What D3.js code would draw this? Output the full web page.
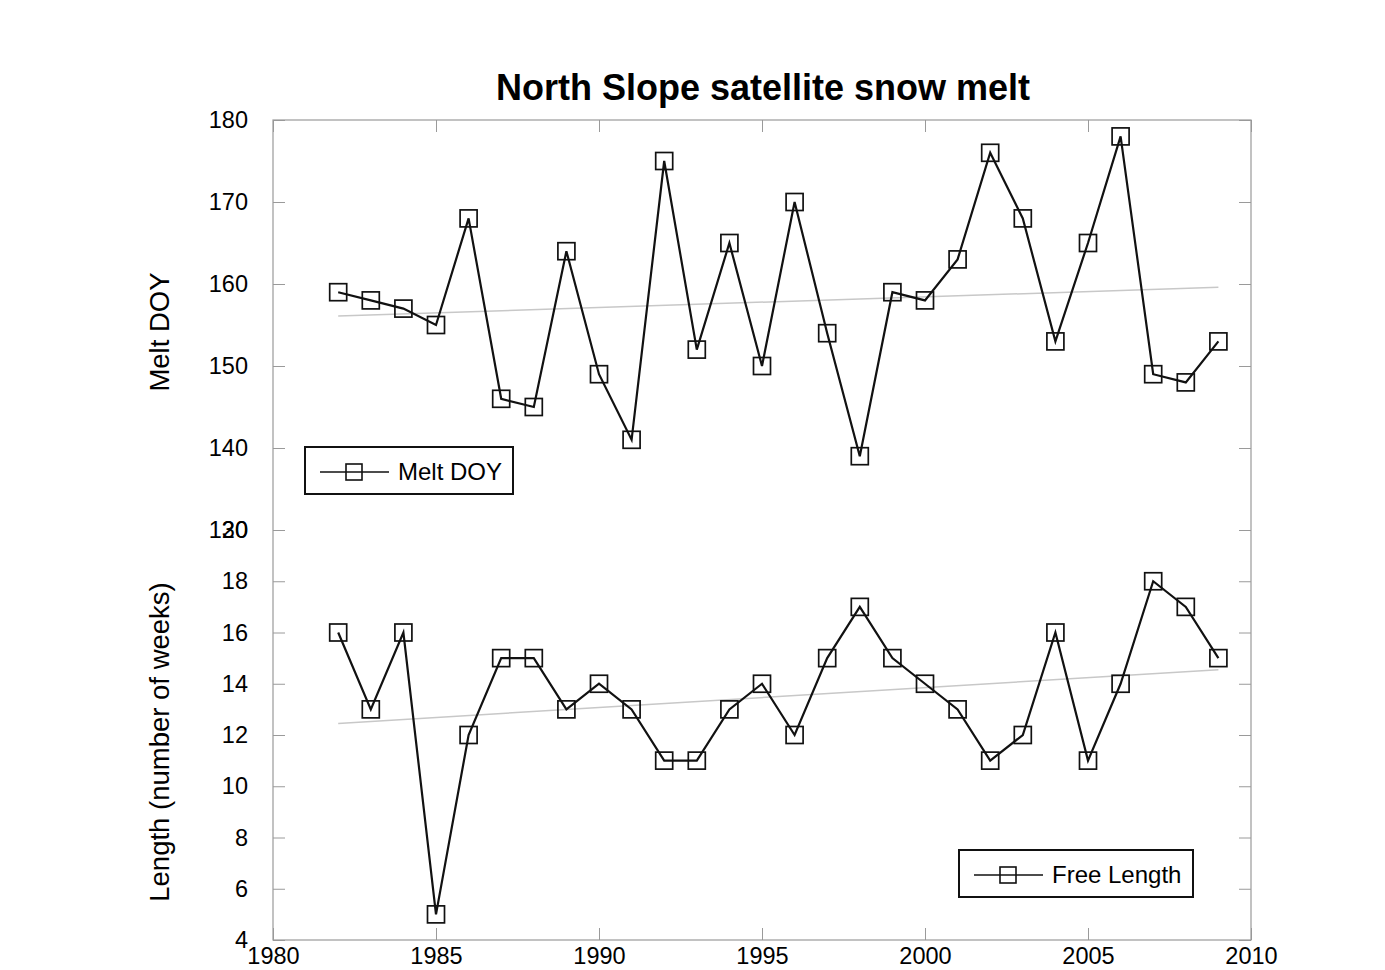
<!DOCTYPE html>
<html>
<head>
<meta charset="utf-8">
<script src="https://cdn.jsdelivr.net/npm/d3@7"></script>
<style>
  body { margin: 0; background: #fff; }
  svg { font-family: "Liberation Sans", Arial, sans-serif; }
</style>
</head>
<body>
<script>
// データ
const years = [1982, 1983, 1984, 1985, 1986, 1987, 1988, 1989, 1990, 1991, 1992, 1993, 1994, 1995,
  1996, 1997, 1998, 1999, 2000, 2001, 2002, 2003, 2004, 2005, 2006, 2007, 2008, 2009];
const meltDoy = [159, 158, 157, 155, 168, 146, 145, 164, 149, 141, 175, 152, 165, 150,
  170, 154, 139, 159, 158, 163, 176, 168, 153, 165, 178, 149, 148, 153];
const freeLength = [16, 13, 16, 5, 12, 15, 15, 13, 14, 13, 11, 11, 13, 14,
  12, 15, 17, 15, 14, 13, 11, 12, 16, 11, 14, 18, 17, 15];
// 傾向線（両端の値を図から読み取り）
const meltTrend = [[1982, 156.1], [2009, 159.6]];
const lengthTrend = [[1982, 12.45], [2009, 14.55]];
const xTicks = [1980, 1985, 1990, 1995, 2000, 2005, 2010];
const meltTicks = [130, 140, 150, 160, 170, 180];
const lengthTicks = [4, 6, 8, 10, 12, 14, 16, 18, 20];

const width = 1385, height = 970;
const plot = { left: 273, right: 1251, top: 120, bottom: 940, split: 530 };

const svg = d3.select("body").append("svg")
  .attr("width", width).attr("height", height);

const x = d3.scaleLinear().domain([1980, 2010]).range([plot.left, plot.right]);
const yMelt = d3.scaleLinear().domain([130, 180]).range([plot.split, plot.top]);
const yLen = d3.scaleLinear().domain([4, 20]).range([plot.bottom, plot.split]);

const tickColor = "#9a9a9a";
function styleAxis(g) {
  g.select(".domain").remove();
  g.selectAll(".tick line").attr("stroke", tickColor);
  g.selectAll(".tick text").attr("fill", "#000").attr("font-size", 23.5)
    .attr("font-family", "Liberation Sans, Arial, sans-serif");
}

// 左軸（上下のパネルで別スケール、130と20は重なる）
svg.append("g").attr("transform", `translate(${plot.left},0)`)
  .call(d3.axisLeft(yMelt).tickValues(meltTicks).tickSizeInner(-12).tickSizeOuter(0).tickPadding(25))
  .call(styleAxis);
svg.append("g").attr("transform", `translate(${plot.left},0)`)
  .call(d3.axisLeft(yLen).tickValues(lengthTicks).tickSizeInner(-12).tickSizeOuter(0).tickPadding(25))
  .call(styleAxis);
// 右軸（目盛りのみ）
svg.append("g").attr("transform", `translate(${plot.right},0)`)
  .call(d3.axisRight(yMelt).tickValues(meltTicks).tickSizeInner(-12).tickSizeOuter(0).tickFormat(""))
  .call(styleAxis);
svg.append("g").attr("transform", `translate(${plot.right},0)`)
  .call(d3.axisRight(yLen).tickValues(lengthTicks).tickSizeInner(-12).tickSizeOuter(0).tickFormat(""))
  .call(styleAxis);
// 下軸・上軸
svg.append("g").attr("transform", `translate(0,${plot.bottom})`)
  .call(d3.axisBottom(x).tickValues(xTicks).tickFormat(d3.format("d")).tickSizeInner(-12).tickSizeOuter(0).tickPadding(7))
  .call(styleAxis);
svg.append("g").attr("transform", `translate(0,${plot.top})`)
  .call(d3.axisTop(x).tickValues(xTicks).tickSizeInner(-12).tickSizeOuter(0).tickFormat(""))
  .call(styleAxis);

// 枠
svg.append("rect")
  .attr("x", plot.left).attr("y", plot.top)
  .attr("width", plot.right - plot.left).attr("height", plot.bottom - plot.top)
  .attr("fill", "none").attr("stroke", tickColor).attr("stroke-width", 1.2);

// 傾向線
const trendLine = (yScale) => d3.line().x(d => x(d[0])).y(d => yScale(d[1]));
svg.append("path").datum(meltTrend).attr("d", trendLine(yMelt))
  .attr("fill", "none").attr("stroke", "#c8c8c8").attr("stroke-width", 1.5);
svg.append("path").datum(lengthTrend).attr("d", trendLine(yLen))
  .attr("fill", "none").attr("stroke", "#c8c8c8").attr("stroke-width", 1.5);

// 系列
const ms = 17;
function drawSeries(values, yScale) {
  const pts = years.map((yr, i) => [yr, values[i]]);
  svg.append("g").selectAll("rect").data(pts).join("rect")
    .attr("x", d => x(d[0]) - ms / 2).attr("y", d => yScale(d[1]) - ms / 2)
    .attr("width", ms).attr("height", ms)
    .attr("fill", "none").attr("stroke", "#111").attr("stroke-width", 1.7);
  svg.append("path").datum(pts)
    .attr("d", d3.line().x(d => x(d[0])).y(d => yScale(d[1])))
    .attr("fill", "none").attr("stroke", "#111").attr("stroke-width", 2.2);
}
drawSeries(meltDoy, yMelt);
drawSeries(freeLength, yLen);

// 凡例
function legend(x0, y0, w, label) {
  const g = svg.append("g").attr("transform", `translate(${x0},${y0})`);
  g.append("rect").attr("width", w).attr("height", 47)
    .attr("fill", "#fff").attr("stroke", "#111").attr("stroke-width", 2);
  g.append("line").attr("x1", 15).attr("x2", 84).attr("y1", 25).attr("y2", 25)
    .attr("stroke", "#111").attr("stroke-width", 1.6);
  g.append("rect").attr("x", 41).attr("y", 17).attr("width", 16).attr("height", 16)
    .attr("fill", "none").attr("stroke", "#111").attr("stroke-width", 1.6);
  g.append("text").attr("x", 93).attr("y", 33).attr("font-size", 24).text(label);
}
legend(305, 447, 208, "Melt DOY");
legend(959, 850, 234, "Free Length");

// タイトル・軸ラベル
svg.append("text").attr("x", 763).attr("y", 100).attr("text-anchor", "middle")
  .attr("font-size", 36).attr("font-weight", "bold").text("North Slope satellite snow melt");
svg.append("text").attr("transform", "translate(169,332) rotate(-90)")
  .attr("text-anchor", "middle").attr("font-size", 27.5).text("Melt DOY");
svg.append("text").attr("transform", "translate(169,742) rotate(-90)")
  .attr("text-anchor", "middle").attr("font-size", 27.5).text("Length (number of weeks)");
</script>
</body>
</html>
